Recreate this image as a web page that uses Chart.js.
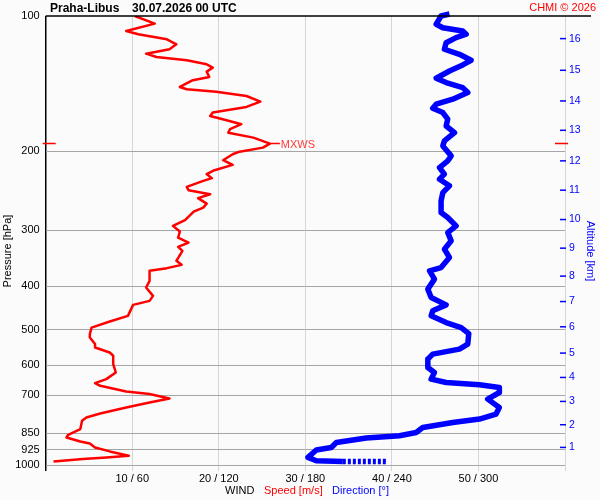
<!DOCTYPE html>
<html>
<head>
<meta charset="utf-8">
<title>Praha-Libus wind profile</title>
<script src="https://cdn.jsdelivr.net/npm/chart.js@4.4.1/dist/chart.umd.min.js"></script>
<style>
  html, body { margin: 0; padding: 0; background: #fbfbfb; }
  #wrap { width: 600px; height: 500px; }
</style>
</head>
<body>
<div id="wrap"><canvas id="windChart" width="600" height="500"></canvas></div>
<script>
// Rychlost vetru [m/s] podle tlaku [hPa]
const speedPressure = [100, 104.0, 108.0, 109.8, 112.7, 115.6, 118.6, 121.3, 123.4, 125.5, 128.1, 130.3, 133.0, 136.7, 139.0,
  143.9, 145.6, 147.4, 150.7, 155.1, 159.4, 164.1, 167.0, 170.7, 174.2, 178.7, 181.9, 186.6, 192.4, 196.4, 200.5, 203.2,
  209.5, 214.6, 220.5, 225.0, 229.7, 232.9, 240.2, 244.3, 249.4, 254.5, 261.7, 267.1, 272.6, 284.9, 293.4, 302.1, 311.5,
  319.6, 326.7, 333.4, 351.0, 358.3, 364.4, 369.5, 388.9, 402.5, 420.1, 431.0, 439.9, 465.4, 479.2, 494.2, 511.2, 520.0,
  537.9, 547.4, 561.6, 571.1, 596.0, 622.3, 643.8, 657.1, 666.3, 686.0, 695.0, 710.9, 725.6, 744.5, 767.8, 783.5, 797.0,
  831.7, 856.4, 868.3, 886.3, 895.4, 913.9, 932.7, 953.5, 961.9, 969.7, 981.8];
const speedValues = [10.3, 12.6, 9.3, 10.7, 14.0, 15.1, 14.3, 11.6, 12.8, 16.3, 18.6, 19.3, 18.6, 18.9, 17.0,
  15.5, 16.3, 19.7, 23.2, 24.8, 23.2, 19.3, 19.0, 20.9, 22.6, 21.3, 21.1, 24.0, 25.9, 25.1, 22.4, 21.6,
  20.5, 21.6, 19.5, 18.6, 19.2, 18.2, 16.3, 16.5, 19.0, 17.6, 18.6, 18.2, 17.1, 16.1, 14.7, 15.5, 15.3,
  16.5, 15.3, 15.8, 15.1, 15.7, 14.0, 12.0, 12.0, 11.6, 12.4, 12.0, 10.1, 9.5, 7.4, 5.3, 5.1, 5.1,
  5.7, 5.7, 7.4, 7.8, 7.8, 8.1, 7.0, 5.7, 6.3, 9.3, 12.0, 14.3, 12.0, 9.3, 6.3, 4.7, 4.2,
  4.0, 2.6, 2.4, 4.0, 5.1, 5.7, 7.4, 9.6, 7.0, 4.3, 0.9];

// Smer vetru [°] podle tlaku [hPa]
const dirPressure = [99, 100, 104.3, 106.2, 108.0, 109.8, 111.7, 114.7, 118.6, 121.7, 125.5, 128.5, 132.6, 137.6, 140.7,
  144.4, 148.1, 153.2, 157.2, 160.5, 164.1, 169.8, 175.8, 181.9, 189.7, 194.7, 204.9, 210.2, 217.6, 225.0, 230.9,
  238.9, 247.4, 258.1, 274.0, 281.1, 293.4, 303.6, 316.8, 330.6, 345.1, 363.3, 369.5, 385.5, 405.8, 423.6, 439.9,
  453.6, 465.4, 481.6, 494.2, 509.6, 537.9, 551.9, 566.2, 580.9, 606.5, 622.3, 643.8, 655.1, 662.9, 672.1, 689.5,
  713.3, 744.5, 770.1, 790.1, 804.0, 824.8, 846.2, 860.7, 870.9, 890.8, 913.9, 926.2, 961.9, 978.2, 981.8, 981.9];
const dirValues = [279.9, 274.1, 270.7, 275.3, 289.1, 291.5, 284.5, 277.6, 276.4, 286.8, 294.9, 289.1, 279.9, 270.7, 277.6,
  289.1, 292.6, 282.2, 270.7, 268.3, 275.3, 278.7, 277.6, 283.4, 276.4, 275.3, 281.1, 278.7, 273.0, 276.4, 273.0,
  279.9, 275.3, 274.1, 274.1, 278.7, 284.5, 278.7, 281.1, 276.4, 279.9, 274.1, 266.1, 269.5, 264.9, 267.2, 277.6,
  268.3, 267.2, 277.6, 288.0, 293.3, 292.6, 286.8, 268.3, 264.9, 264.9, 269.5, 267.2, 277.6, 300.7, 314.5, 314.5,
  306.4, 314.5, 312.2, 300.7, 282.2, 261.4, 256.8, 245.3, 222.2, 201.5, 198.0, 187.6, 181.8, 187.6, 206.0, 236.1];

// Osy
const pressureTicks = [100, 200, 300, 400, 500, 600, 700, 850, 925, 1000];
const speedTicks = [10, 20, 30, 40, 50];
const dirTicks = [60, 120, 180, 240, 300];
const altitudeKm = [1, 2, 3, 4, 5, 6, 7, 8, 9, 10, 11, 12, 13, 14, 15, 16];
const altitudePressure = [913.7, 813.4, 721.8, 638.3, 563.3, 492.3, 432.5, 379.6, 328.9, 284.0, 244.3, 210.2, 179.7, 154.6, 132.1, 112.3];

const FONT = '"Liberation Sans", Arial, sans-serif';
Chart.defaults.font.family = FONT;

// smer 0-360 se kresli na stejnou osu jako rychlost 0-60
const speedPoints = speedValues.map((v, i) => ({ x: v, y: speedPressure[i] }));
const dirPoints = dirValues.map((d, i) => ({ x: d / 6, y: dirPressure[i] }));

const mxwsIndex = speedValues.indexOf(Math.max(...speedValues));

const decor = {
    id: 'decor',
    beforeDraw(chart) {
        const ctx = chart.ctx;
        ctx.save();
        ctx.fillStyle = '#fbfbfb';
        ctx.fillRect(0, 0, chart.width, chart.height);
        ctx.restore();
    },
    afterDraw(chart) {
        const ctx = chart.ctx;
        const area = chart.chartArea;
        const xs = chart.scales.x;
        const ys = chart.scales.y;
        const y2 = chart.scales.y2;
        ctx.save();

        // horni cara
        ctx.strokeStyle = '#000';
        ctx.lineWidth = 1.5;
        ctx.beginPath();
        ctx.moveTo(area.left, area.top);
        ctx.lineTo(591, area.top);
        ctx.stroke();

        // nadpis
        ctx.fillStyle = '#000';
        ctx.font = 'bold 12px ' + FONT;
        ctx.textBaseline = 'alphabetic';
        ctx.textAlign = 'left';
        ctx.fillText('Praha-Libus', 50, 12);
        ctx.fillText('30.07.2026 00 UTC', 132, 12);

        ctx.fillStyle = '#ff0000';
        ctx.font = '11px ' + FONT;
        ctx.textAlign = 'right';
        ctx.fillText('CHMI \u00a9 2026', 596, 11);

        // carky na ose vysky
        ctx.strokeStyle = '#0000ff';
        ctx.lineWidth = 1.5;
        y2.ticks.forEach(t => {
            const py = y2.getPixelForValue(t.value);
            ctx.beginPath();
            ctx.moveTo(area.right - 5, py);
            ctx.lineTo(area.right + 1, py);
            ctx.stroke();
        });

        // MXWS
        const mp = ys.getPixelForValue(speedPressure[mxwsIndex]);
        const mx = xs.getPixelForValue(speedValues[mxwsIndex]);
        ctx.strokeStyle = '#ff0000';
        ctx.lineWidth = 1.5;
        ctx.beginPath();
        ctx.moveTo(area.left - 3, mp); ctx.lineTo(area.left + 10, mp);
        ctx.moveTo(area.right - 10, mp); ctx.lineTo(area.right + 3, mp);
        ctx.moveTo(mx, mp); ctx.lineTo(mx + 10, mp);
        ctx.stroke();
        ctx.fillStyle = '#ff3b3b';
        ctx.font = '11px ' + FONT;
        ctx.textAlign = 'left';
        ctx.textBaseline = 'middle';
        ctx.fillText('MXWS', mx + 11, mp + 1);

        // popisky os
        ctx.save();
        ctx.translate(8, 251);
        ctx.rotate(-Math.PI / 2);
        ctx.textAlign = 'center';
        ctx.fillStyle = '#000';
        ctx.fillText('Pressure [hPa]', 0, 0);
        ctx.restore();

        ctx.save();
        ctx.translate(590, 251);
        ctx.rotate(Math.PI / 2);
        ctx.textAlign = 'center';
        ctx.fillStyle = '#0000ff';
        ctx.fillText('Altitude [km]', 0, 0);
        ctx.restore();

        ctx.textAlign = 'left';
        ctx.fillStyle = '#000';
        ctx.fillText('WIND', 225, 491);
        ctx.fillStyle = '#ff0000';
        ctx.fillText('Speed [m/s]', 264, 491);
        ctx.fillStyle = '#0000ff';
        ctx.fillText('Direction [\u00b0]', 332, 491);

        ctx.restore();
    }
};

const ctx = document.getElementById('windChart').getContext('2d');
const windChart = new Chart(ctx, {
    type: 'scatter',
    data: {
        datasets: [{
            label: 'Speed',
            data: speedPoints,
            showLine: true,
            borderColor: '#ff0000',
            borderWidth: 2.5,
            pointRadius: 0,
            borderJoinStyle: 'round',
            yAxisID: 'y'
        }, {
            label: 'Direction',
            data: dirPoints,
            showLine: true,
            borderColor: '#0000ff',
            borderWidth: 5.5,
            pointRadius: 0,
            borderJoinStyle: 'round',
            borderCapStyle: 'butt',
            clip: false,
            segment: {
                borderDash: c => c.p1DataIndex === dirPoints.length - 1 ? [3, 2] : undefined
            },
            yAxisID: 'y'
        }]
    },
    options: {
        responsive: false,
        devicePixelRatio: 1,
        animation: false,
        layout: { padding: { top: 16, left: 0, right: 0, bottom: 0 } },
        plugins: {
            legend: { display: false },
            tooltip: { enabled: false }
        },
        scales: {
            x: {
                type: 'linear',
                min: 0,
                max: 60,
                position: 'bottom',
                afterFit: s => { s.height = 35; },
                border: { display: false },
                grid: {
                    color: c => c.tick.value === 0 ? '#000' : '#d6d6d6',
                    tickColor: c => c.tick.value === 0 ? '#000' : '#d6d6d6',
                    lineWidth: c => c.tick.value === 0 ? 1.5 : 1,
                    drawTicks: true,
                    tickLength: 6
                },
                ticks: {
                    stepSize: 10,
                    autoSkip: false,
                    maxRotation: 0,
                    padding: 1,
                    color: '#000',
                    font: { size: 11 },
                    callback: v => {
                        const i = speedTicks.indexOf(v);
                        return i < 0 ? '' : speedTicks[i] + ' / ' + dirTicks[i];
                    }
                }
            },
            y: {
                type: 'logarithmic',
                min: 100,
                max: 1000,
                reverse: true,
                position: 'left',
                afterFit: s => { s.width = 45.7; },
                afterBuildTicks: s => { s.ticks = pressureTicks.map(v => ({ value: v })); },
                border: { display: false },
                grid: {
                    color: c => c.tick.value === 100 ? 'rgba(0,0,0,0)' : '#a6a6a6',
                    drawTicks: false
                },
                ticks: {
                    padding: 6,
                    color: '#000',
                    font: { size: 11 },
                    callback: v => String(v)
                }
            },
            y2: {
                type: 'logarithmic',
                min: 100,
                max: 1000,
                reverse: true,
                position: 'right',
                afterFit: s => { s.width = 35; },
                afterBuildTicks: s => { s.ticks = altitudePressure.map(v => ({ value: v })); },
                border: { display: false },
                grid: { display: false, drawTicks: false },
                ticks: {
                    padding: 4,
                    color: '#0000ff',
                    font: { size: 10.5 },
                    callback: (v, i) => String(altitudeKm[i])
                }
            }
        }
    },
    plugins: [decor]
});
</script>
</body>
</html>
